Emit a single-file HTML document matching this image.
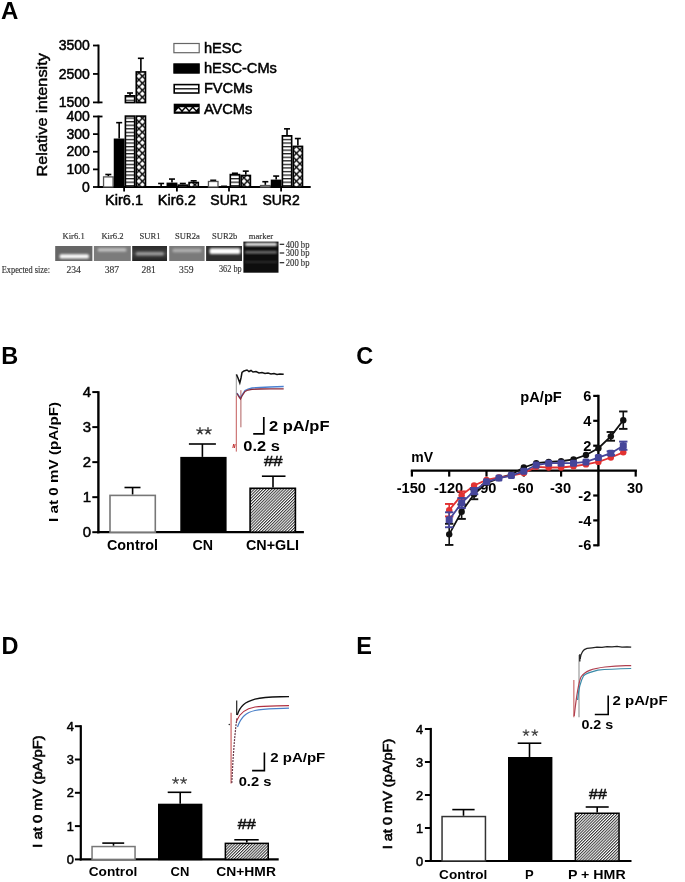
<!DOCTYPE html><html><head><meta charset="utf-8"><style>html,body{margin:0;padding:0;background:#fff;}svg{display:block;filter:blur(0.35px);}</style></head><body>
<svg width="685" height="882" viewBox="0 0 685 882">
<defs>
<pattern id="hstripe" patternUnits="userSpaceOnUse" x="0" y="0" width="20" height="3.56">
<rect x="0" y="0" width="20" height="3.56" fill="#fff"/><rect x="0" y="0" width="20" height="1.3" fill="#222"/></pattern>
<pattern id="xhatch" patternUnits="userSpaceOnUse" x="-1.1" y="2.7" width="7" height="7">
<rect width="7" height="7" fill="#fff"/>
<path d="M-1,-1 L8,8 M-1,8 L8,-1" stroke="#000" stroke-width="1.4"/></pattern>
<pattern id="diag" patternUnits="userSpaceOnUse" width="2.06" height="2.06" patternTransform="rotate(45)">
<rect width="2.06" height="2.06" fill="#fff"/><rect width="1.0" height="2.06" fill="#333"/></pattern>
<filter id="bl" x="-20%" y="-50%" width="140%" height="200%"><feGaussianBlur stdDeviation="0.9"/></filter>
<linearGradient id="darklane" x1="0" y1="0" x2="0" y2="1"><stop offset="0" stop-color="#2a2a2a"/><stop offset="0.5" stop-color="#444"/><stop offset="1" stop-color="#222"/></linearGradient>
</defs>
<rect width="685" height="882" fill="#fff"/>
<text x="0.9" y="19.4" font-size="24" font-weight="bold" text-anchor="start" fill="#000" font-family='"Liberation Sans", sans-serif'>A</text>
<line x1="98.5" y1="44.6" x2="98.5" y2="103.3" stroke="#000" stroke-width="2" stroke-linecap="butt"/>
<line x1="93" y1="45.5" x2="98.5" y2="45.5" stroke="#000" stroke-width="1.8" stroke-linecap="butt"/>
<line x1="93" y1="73.95" x2="98.5" y2="73.95" stroke="#000" stroke-width="1.8" stroke-linecap="butt"/>
<line x1="93" y1="102.4" x2="98.5" y2="102.4" stroke="#000" stroke-width="1.8" stroke-linecap="butt"/>
<line x1="98.5" y1="102.4" x2="102.5" y2="102.4" stroke="#000" stroke-width="1.8" stroke-linecap="butt"/>
<line x1="98.5" y1="115.6" x2="98.5" y2="187" stroke="#000" stroke-width="2" stroke-linecap="butt"/>
<line x1="93" y1="116.5" x2="98.5" y2="116.5" stroke="#000" stroke-width="1.8" stroke-linecap="butt"/>
<line x1="93" y1="134.125" x2="98.5" y2="134.125" stroke="#000" stroke-width="1.8" stroke-linecap="butt"/>
<line x1="93" y1="151.75" x2="98.5" y2="151.75" stroke="#000" stroke-width="1.8" stroke-linecap="butt"/>
<line x1="93" y1="169.375" x2="98.5" y2="169.375" stroke="#000" stroke-width="1.8" stroke-linecap="butt"/>
<line x1="93" y1="187.0" x2="98.5" y2="187.0" stroke="#000" stroke-width="1.8" stroke-linecap="butt"/>
<line x1="98.5" y1="116.5" x2="102.5" y2="116.5" stroke="#000" stroke-width="1.8" stroke-linecap="butt"/>
<text x="89.8" y="50.1" font-size="14" text-anchor="end" fill="#000" stroke="#000" stroke-width="0.5" font-family='"Liberation Sans", sans-serif'>3500</text>
<text x="89.8" y="78.55" font-size="14" text-anchor="end" fill="#000" stroke="#000" stroke-width="0.5" font-family='"Liberation Sans", sans-serif'>2500</text>
<text x="89.8" y="107.0" font-size="14" text-anchor="end" fill="#000" stroke="#000" stroke-width="0.5" font-family='"Liberation Sans", sans-serif'>1500</text>
<text x="89.8" y="121.1" font-size="14" text-anchor="end" fill="#000" stroke="#000" stroke-width="0.5" font-family='"Liberation Sans", sans-serif'>400</text>
<text x="89.8" y="138.725" font-size="14" text-anchor="end" fill="#000" stroke="#000" stroke-width="0.5" font-family='"Liberation Sans", sans-serif'>300</text>
<text x="89.8" y="156.35" font-size="14" text-anchor="end" fill="#000" stroke="#000" stroke-width="0.5" font-family='"Liberation Sans", sans-serif'>200</text>
<text x="89.8" y="173.975" font-size="14" text-anchor="end" fill="#000" stroke="#000" stroke-width="0.5" font-family='"Liberation Sans", sans-serif'>100</text>
<text x="89.8" y="191.6" font-size="14" text-anchor="end" fill="#000" stroke="#000" stroke-width="0.5" font-family='"Liberation Sans", sans-serif'>0</text>
<text transform="translate(46.9,114.8) rotate(-90)" x="0" y="0" font-size="14.5" text-anchor="middle" fill="#000" stroke="#000" stroke-width="0.45" font-family='"Liberation Sans", sans-serif' textLength="123.5" lengthAdjust="spacingAndGlyphs">Relative intensity</text>
<line x1="97.5" y1="187" x2="310.7" y2="187" stroke="#000" stroke-width="2" stroke-linecap="butt"/>
<line x1="124.1" y1="187" x2="124.1" y2="191.5" stroke="#000" stroke-width="1.8" stroke-linecap="butt"/>
<text x="124.1" y="205" font-size="14" text-anchor="middle" fill="#000" stroke="#000" stroke-width="0.5" font-family='"Liberation Sans", sans-serif' textLength="38.0" lengthAdjust="spacingAndGlyphs">Kir6.1</text>
<line x1="176.9" y1="187" x2="176.9" y2="191.5" stroke="#000" stroke-width="1.8" stroke-linecap="butt"/>
<text x="176.9" y="205" font-size="14" text-anchor="middle" fill="#000" stroke="#000" stroke-width="0.5" font-family='"Liberation Sans", sans-serif' textLength="38.2" lengthAdjust="spacingAndGlyphs">Kir6.2</text>
<line x1="229.0" y1="187" x2="229.0" y2="191.5" stroke="#000" stroke-width="1.8" stroke-linecap="butt"/>
<text x="229.0" y="205" font-size="14" text-anchor="middle" fill="#000" stroke="#000" stroke-width="0.5" font-family='"Liberation Sans", sans-serif'>SUR1</text>
<line x1="281.1" y1="187" x2="281.1" y2="191.5" stroke="#000" stroke-width="1.8" stroke-linecap="butt"/>
<text x="281.1" y="205" font-size="14" text-anchor="middle" fill="#000" stroke="#000" stroke-width="0.5" font-family='"Liberation Sans", sans-serif'>SUR2</text>
<line x1="108.32499999999999" y1="174.48625" x2="108.32499999999999" y2="176.24875" stroke="#000" stroke-width="1.6" stroke-linecap="butt"/>
<line x1="105.32499999999999" y1="174.48625" x2="111.32499999999999" y2="174.48625" stroke="#000" stroke-width="1.6" stroke-linecap="butt"/>
<rect x="103.55" y="176.89875" width="9.549999999999999" height="10.101249999999999" fill="#fff" stroke="#555" stroke-width="1.3"/>
<line x1="119.17499999999998" y1="122.66875" x2="119.17499999999998" y2="138.53125" stroke="#000" stroke-width="1.6" stroke-linecap="butt"/>
<line x1="116.17499999999998" y1="122.66875" x2="122.17499999999998" y2="122.66875" stroke="#000" stroke-width="1.6" stroke-linecap="butt"/>
<rect x="114.54999999999998" y="139.33125" width="9.25" height="47.66875" fill="#000" stroke="#000" stroke-width="1.6"/>
<line x1="161.12500000000003" y1="183.475" x2="161.12500000000003" y2="186.47125" stroke="#000" stroke-width="1.6" stroke-linecap="butt"/>
<line x1="158.12500000000003" y1="183.475" x2="164.12500000000003" y2="183.475" stroke="#000" stroke-width="1.6" stroke-linecap="butt"/>
<rect x="156.35000000000002" y="187.12125" width="9.549999999999999" height="-0.12124999999999775" fill="#fff" stroke="#555" stroke-width="1.3"/>
<line x1="171.97500000000002" y1="179.06875" x2="171.97500000000002" y2="182.59375" stroke="#000" stroke-width="1.6" stroke-linecap="butt"/>
<line x1="168.97500000000002" y1="179.06875" x2="174.97500000000002" y2="179.06875" stroke="#000" stroke-width="1.6" stroke-linecap="butt"/>
<rect x="167.35000000000002" y="183.39375" width="9.25" height="3.60625" fill="#000" stroke="#000" stroke-width="1.6"/>
<line x1="182.82500000000002" y1="183.475" x2="182.82500000000002" y2="184.35625" stroke="#000" stroke-width="1.6" stroke-linecap="butt"/>
<line x1="179.82500000000002" y1="183.475" x2="185.82500000000002" y2="183.475" stroke="#000" stroke-width="1.6" stroke-linecap="butt"/>
<rect x="178.20000000000002" y="185.15625" width="9.25" height="1.8437500000000113" fill="url(#hstripe)" stroke="#000" stroke-width="1.6"/>
<line x1="193.675" y1="180.83125" x2="193.675" y2="181.7125" stroke="#000" stroke-width="1.6" stroke-linecap="butt"/>
<line x1="190.675" y1="180.83125" x2="196.675" y2="180.83125" stroke="#000" stroke-width="1.6" stroke-linecap="butt"/>
<rect x="189.05" y="182.51250000000002" width="9.25" height="4.4874999999999945" fill="url(#xhatch)" stroke="#000" stroke-width="1.6"/>
<line x1="213.22500000000002" y1="180.3025" x2="213.22500000000002" y2="180.83125" stroke="#000" stroke-width="1.6" stroke-linecap="butt"/>
<line x1="210.22500000000002" y1="180.3025" x2="216.22500000000002" y2="180.3025" stroke="#000" stroke-width="1.6" stroke-linecap="butt"/>
<rect x="208.45000000000002" y="181.48125000000002" width="9.549999999999999" height="5.518749999999988" fill="#fff" stroke="#555" stroke-width="1.3"/>
<line x1="224.07500000000002" y1="186.295" x2="224.07500000000002" y2="186.6475" stroke="#000" stroke-width="1.6" stroke-linecap="butt"/>
<line x1="221.07500000000002" y1="186.295" x2="227.07500000000002" y2="186.295" stroke="#000" stroke-width="1.6" stroke-linecap="butt"/>
<rect x="219.45000000000002" y="187.44750000000002" width="9.25" height="-0.447500000000008" fill="#000" stroke="#000" stroke-width="1.6"/>
<line x1="234.925" y1="173.2525" x2="234.925" y2="173.78125" stroke="#000" stroke-width="1.6" stroke-linecap="butt"/>
<line x1="231.925" y1="173.2525" x2="237.925" y2="173.2525" stroke="#000" stroke-width="1.6" stroke-linecap="butt"/>
<rect x="230.3" y="174.58125" width="9.25" height="12.41875" fill="url(#hstripe)" stroke="#000" stroke-width="1.6"/>
<line x1="245.77500000000003" y1="171.1375" x2="245.77500000000003" y2="174.6625" stroke="#000" stroke-width="1.6" stroke-linecap="butt"/>
<line x1="242.77500000000003" y1="171.1375" x2="248.77500000000003" y2="171.1375" stroke="#000" stroke-width="1.6" stroke-linecap="butt"/>
<rect x="241.15000000000003" y="175.4625" width="9.25" height="11.537500000000005" fill="url(#xhatch)" stroke="#000" stroke-width="1.6"/>
<line x1="265.32500000000005" y1="181.7125" x2="265.32500000000005" y2="184.885" stroke="#000" stroke-width="1.6" stroke-linecap="butt"/>
<line x1="262.32500000000005" y1="181.7125" x2="268.32500000000005" y2="181.7125" stroke="#000" stroke-width="1.6" stroke-linecap="butt"/>
<rect x="260.55" y="185.535" width="9.549999999999999" height="1.4650000000000092" fill="#fff" stroke="#555" stroke-width="1.3"/>
<line x1="276.17500000000007" y1="176.0725" x2="276.17500000000007" y2="179.5975" stroke="#000" stroke-width="1.6" stroke-linecap="butt"/>
<line x1="273.17500000000007" y1="176.0725" x2="279.17500000000007" y2="176.0725" stroke="#000" stroke-width="1.6" stroke-linecap="butt"/>
<rect x="271.55000000000007" y="180.3975" width="9.25" height="6.602500000000004" fill="#000" stroke="#000" stroke-width="1.6"/>
<line x1="287.02500000000003" y1="128.8375" x2="287.02500000000003" y2="135.00625" stroke="#000" stroke-width="1.6" stroke-linecap="butt"/>
<line x1="284.02500000000003" y1="128.8375" x2="290.02500000000003" y2="128.8375" stroke="#000" stroke-width="1.6" stroke-linecap="butt"/>
<rect x="282.40000000000003" y="135.80625" width="9.25" height="51.19375000000001" fill="url(#hstripe)" stroke="#000" stroke-width="1.6"/>
<line x1="297.87500000000006" y1="138.53125" x2="297.87500000000006" y2="145.58125" stroke="#000" stroke-width="1.6" stroke-linecap="butt"/>
<line x1="294.87500000000006" y1="138.53125" x2="300.87500000000006" y2="138.53125" stroke="#000" stroke-width="1.6" stroke-linecap="butt"/>
<rect x="293.25000000000006" y="146.38125000000002" width="9.25" height="40.61874999999999" fill="url(#xhatch)" stroke="#000" stroke-width="1.6"/>
<rect x="125.39999999999999" y="116.1" width="9.25" height="70.9" fill="url(#hstripe)" stroke="#000" stroke-width="1.6"/>
<line x1="130.025" y1="93.0115" x2="130.025" y2="95.003" stroke="#000" stroke-width="1.6" stroke-linecap="butt"/>
<line x1="127.025" y1="93.0115" x2="133.025" y2="93.0115" stroke="#000" stroke-width="1.6" stroke-linecap="butt"/>
<rect x="125.39999999999999" y="95.803" width="9.25" height="6.796999999999994" fill="url(#hstripe)" stroke="#000" stroke-width="1.6"/>
<rect x="136.25" y="116.1" width="9.25" height="70.9" fill="url(#xhatch)" stroke="#000" stroke-width="1.6"/>
<line x1="140.875" y1="58.302499999999995" x2="140.875" y2="71.105" stroke="#000" stroke-width="1.6" stroke-linecap="butt"/>
<line x1="137.875" y1="58.302499999999995" x2="143.875" y2="58.302499999999995" stroke="#000" stroke-width="1.6" stroke-linecap="butt"/>
<rect x="136.25" y="71.905" width="9.25" height="30.69499999999999" fill="url(#xhatch)" stroke="#000" stroke-width="1.6"/>
<rect x="173.9" y="43.5" width="25.3" height="9.2" fill="#fff" stroke="#666" stroke-width="1.2"/>
<text x="203.9" y="52.5" font-size="14.6" text-anchor="start" fill="#000" stroke="#000" stroke-width="0.5" font-family='"Liberation Sans", sans-serif'>hESC</text>
<rect x="173.9" y="63.900000000000006" width="25.3" height="9.2" fill="#000" stroke="#000" stroke-width="1.2"/>
<text x="203.9" y="72.9" font-size="14.6" text-anchor="start" fill="#000" stroke="#000" stroke-width="0.5" font-family='"Liberation Sans", sans-serif'>hESC-CMs</text>
<rect x="174.2" y="84.6" width="24.6" height="8.4" fill="#fff" stroke="#000" stroke-width="1.6"/>
<line x1="174.2" y1="88.8" x2="198.8" y2="88.8" stroke="#000" stroke-width="1.3" stroke-linecap="butt"/>
<text x="203.9" y="93.3" font-size="14.6" text-anchor="start" fill="#000" stroke="#000" stroke-width="0.5" font-family='"Liberation Sans", sans-serif'>FVCMs</text>
<rect x="173.7" y="103.7" width="26.0" height="10.1" fill="#000"/>
<polygon points="175.4,111.6 181.4,111.6 178.4,108.2" fill="#fff"/>
<polygon points="182.6,111.6 188.6,111.6 185.6,108.2" fill="#fff"/>
<polygon points="189.8,111.6 195.8,111.6 192.8,108.2" fill="#fff"/>
<polygon points="179.4,107.2 184.6,107.2 182.0,110.0" fill="#fff"/>
<polygon points="186.6,107.2 191.79999999999998,107.2 189.2,110.0" fill="#fff"/>
<polygon points="193.70000000000002,107.2 198.9,107.2 196.3,110.0" fill="#fff"/>
<text x="203.9" y="113.69999999999999" font-size="14.6" text-anchor="start" fill="#000" stroke="#000" stroke-width="0.5" font-family='"Liberation Sans", sans-serif'>AVCMs</text>
<rect x="55.2" y="246" width="37.2" height="15" fill="#666"/>
<rect x="59.6" y="254.3" width="29.300000000000004" height="4.199999999999989" rx="1.5" fill="#fafafa" filter="url(#bl)"/>
<rect x="93.9" y="246" width="36.900000000000006" height="15" fill="#7b7b7b"/>
<rect x="97.7" y="248.2" width="28.799999999999997" height="3.4000000000000057" rx="1.5" fill="#c4c4c4" filter="url(#bl)"/>
<rect x="132.2" y="246" width="34.80000000000001" height="15" fill="url(#darklane)"/>
<rect x="135.8" y="252.0" width="28.099999999999994" height="3.5999999999999943" rx="1.5" fill="#9a9a9a" filter="url(#bl)"/>
<rect x="169.2" y="246" width="35.400000000000006" height="15" fill="#7a7a7a"/>
<rect x="172.5" y="248.8" width="29.0" height="3.5" rx="1.5" fill="#b0b0b0" filter="url(#bl)"/>
<rect x="206.1" y="246" width="35.900000000000006" height="15" fill="#2e2e2e"/>
<rect x="209.6" y="248.3" width="30.700000000000017" height="5.699999999999989" rx="1.5" fill="#fdfdfd" filter="url(#bl)"/>
<rect x="243.4" y="241.6" width="35.1" height="31.1" fill="#0e0e0e"/>
<rect x="245" y="242.8" width="32" height="3.2" rx="1.5" fill="#e8e8e8" filter="url(#bl)"/>
<rect x="245" y="251" width="32" height="2.4" rx="1" fill="#777" filter="url(#bl)"/>
<rect x="245" y="261" width="32" height="1.8" rx="1" fill="#333" filter="url(#bl)"/>
<line x1="279.7" y1="244.3" x2="284.2" y2="244.3" stroke="#222" stroke-width="1.2" stroke-linecap="butt"/>
<text x="285.8" y="247.60000000000002" font-size="9.6" text-anchor="start" fill="#333" stroke="#333" stroke-width="0.15" font-family='"Liberation Serif", serif' textLength="23.7" lengthAdjust="spacingAndGlyphs">400 bp</text>
<line x1="279.7" y1="253.0" x2="284.2" y2="253.0" stroke="#222" stroke-width="1.2" stroke-linecap="butt"/>
<text x="285.8" y="256.3" font-size="9.6" text-anchor="start" fill="#333" stroke="#333" stroke-width="0.15" font-family='"Liberation Serif", serif' textLength="23.7" lengthAdjust="spacingAndGlyphs">300 bp</text>
<line x1="279.7" y1="262.7" x2="284.2" y2="262.7" stroke="#222" stroke-width="1.2" stroke-linecap="butt"/>
<text x="285.8" y="266.0" font-size="9.6" text-anchor="start" fill="#333" stroke="#333" stroke-width="0.15" font-family='"Liberation Serif", serif' textLength="23.7" lengthAdjust="spacingAndGlyphs">200 bp</text>
<text x="73.6" y="238.8" font-size="8.6" text-anchor="middle" fill="#333" stroke="#333" stroke-width="0.15" font-family='"Liberation Serif", serif'>Kir6.1</text>
<text x="112.5" y="238.8" font-size="8.6" text-anchor="middle" fill="#333" stroke="#333" stroke-width="0.15" font-family='"Liberation Serif", serif'>Kir6.2</text>
<text x="150.0" y="238.8" font-size="8.6" text-anchor="middle" fill="#333" stroke="#333" stroke-width="0.15" font-family='"Liberation Serif", serif'>SUR1</text>
<text x="187.5" y="238.8" font-size="8.6" text-anchor="middle" fill="#333" stroke="#333" stroke-width="0.15" font-family='"Liberation Serif", serif'>SUR2a</text>
<text x="224.7" y="238.8" font-size="8.6" text-anchor="middle" fill="#333" stroke="#333" stroke-width="0.15" font-family='"Liberation Serif", serif'>SUR2b</text>
<text x="261.0" y="238.8" font-size="8.6" text-anchor="middle" fill="#333" stroke="#333" stroke-width="0.15" font-family='"Liberation Serif", serif'>marker</text>
<text x="1.8" y="272.6" font-size="9.6" text-anchor="start" fill="#333" stroke="#333" stroke-width="0.15" font-family='"Liberation Serif", serif' textLength="48.2" lengthAdjust="spacingAndGlyphs">Expected size:</text>
<text x="73.6" y="272.6" font-size="9.6" text-anchor="middle" fill="#333" stroke="#333" stroke-width="0.15" font-family='"Liberation Serif", serif'>234</text>
<text x="111.9" y="272.6" font-size="9.6" text-anchor="middle" fill="#333" stroke="#333" stroke-width="0.15" font-family='"Liberation Serif", serif'>387</text>
<text x="148.7" y="272.6" font-size="9.6" text-anchor="middle" fill="#333" stroke="#333" stroke-width="0.15" font-family='"Liberation Serif", serif'>281</text>
<text x="186.3" y="272.6" font-size="9.6" text-anchor="middle" fill="#333" stroke="#333" stroke-width="0.15" font-family='"Liberation Serif", serif'>359</text>
<text x="241.6" y="272.4" font-size="9.6" text-anchor="end" fill="#333" stroke="#333" stroke-width="0.15" font-family='"Liberation Serif", serif' textLength="22.6" lengthAdjust="spacingAndGlyphs">362 bp</text>
<text x="1.3" y="363.6" font-size="23.5" font-weight="bold" text-anchor="start" fill="#000" font-family='"Liberation Sans", sans-serif'>B</text>
<line x1="98.4" y1="391.2" x2="98.4" y2="533.3" stroke="#000" stroke-width="2.4" stroke-linecap="butt"/>
<line x1="92.3" y1="532.2" x2="98.4" y2="532.2" stroke="#000" stroke-width="2" stroke-linecap="butt"/>
<text x="91.0" y="537.4000000000001" font-size="15" text-anchor="end" fill="#000" stroke="#000" stroke-width="0.5" font-family='"Liberation Sans", sans-serif'>0</text>
<line x1="92.3" y1="497.1700000000001" x2="98.4" y2="497.1700000000001" stroke="#000" stroke-width="2" stroke-linecap="butt"/>
<text x="91.0" y="502.37000000000006" font-size="15" text-anchor="end" fill="#000" stroke="#000" stroke-width="0.5" font-family='"Liberation Sans", sans-serif'>1</text>
<line x1="92.3" y1="462.14000000000004" x2="98.4" y2="462.14000000000004" stroke="#000" stroke-width="2" stroke-linecap="butt"/>
<text x="91.0" y="467.34000000000003" font-size="15" text-anchor="end" fill="#000" stroke="#000" stroke-width="0.5" font-family='"Liberation Sans", sans-serif'>2</text>
<line x1="92.3" y1="427.11" x2="98.4" y2="427.11" stroke="#000" stroke-width="2" stroke-linecap="butt"/>
<text x="91.0" y="432.31" font-size="15" text-anchor="end" fill="#000" stroke="#000" stroke-width="0.5" font-family='"Liberation Sans", sans-serif'>3</text>
<line x1="92.3" y1="392.08000000000004" x2="98.4" y2="392.08000000000004" stroke="#000" stroke-width="2" stroke-linecap="butt"/>
<text x="91.0" y="397.28000000000003" font-size="15" text-anchor="end" fill="#000" stroke="#000" stroke-width="0.5" font-family='"Liberation Sans", sans-serif'>4</text>
<line x1="97.2" y1="532.2" x2="303.9" y2="532.2" stroke="#000" stroke-width="2.2" stroke-linecap="butt"/>
<text transform="translate(57.8,461.9) rotate(-90)" x="0" y="0" font-size="13" font-weight="bold" text-anchor="middle" fill="#000" font-family='"Liberation Sans", sans-serif' textLength="120" lengthAdjust="spacingAndGlyphs">I at 0 mV (pA/pF)</text>
<line x1="132.6" y1="487.5" x2="132.6" y2="494.6" stroke="#000" stroke-width="1.6" stroke-linecap="butt"/>
<line x1="124.5" y1="487.5" x2="140.5" y2="487.5" stroke="#000" stroke-width="1.6" stroke-linecap="butt"/>
<rect x="110.0" y="495.40000000000003" width="45.29999999999999" height="36.800000000000026" fill="#fff" stroke="#777" stroke-width="1.6"/>
<line x1="202.4" y1="444.0" x2="202.4" y2="456.9" stroke="#000" stroke-width="1.6" stroke-linecap="butt"/>
<line x1="188.9" y1="444.0" x2="215.9" y2="444.0" stroke="#000" stroke-width="1.6" stroke-linecap="butt"/>
<rect x="181.10000000000002" y="457.7" width="44.69999999999998" height="74.50000000000007" fill="#000" stroke="#000" stroke-width="1.6"/>
<line x1="273.0" y1="476.2" x2="273.0" y2="487.5" stroke="#000" stroke-width="1.6" stroke-linecap="butt"/>
<line x1="261.9" y1="476.2" x2="285.5" y2="476.2" stroke="#000" stroke-width="1.6" stroke-linecap="butt"/>
<rect x="250.10000000000002" y="488.3" width="45.299999999999976" height="43.90000000000005" fill="url(#diag)" stroke="#000" stroke-width="1.6"/>
<text x="132.5" y="550.2" font-size="14.2" font-weight="bold" text-anchor="middle" fill="#000" font-family='"Liberation Sans", sans-serif' textLength="51" lengthAdjust="spacingAndGlyphs">Control</text>
<text x="202.7" y="550.2" font-size="14.2" font-weight="bold" text-anchor="middle" fill="#000" font-family='"Liberation Sans", sans-serif'>CN</text>
<text x="272.5" y="550.2" font-size="14.2" font-weight="bold" text-anchor="middle" fill="#000" font-family='"Liberation Sans", sans-serif' textLength="53" lengthAdjust="spacingAndGlyphs">CN+GLI</text>
<path d="M200.00,431.00 L200.00,427.60 M200.00,431.00 L203.23,429.95 M200.00,431.00 L202.00,433.75 M200.00,431.00 L198.00,433.75 M200.00,431.00 L196.77,429.95 " stroke="#3a3a3a" stroke-width="1.4" stroke-linecap="round" fill="none"/>
<path d="M208.00,431.00 L208.00,427.60 M208.00,431.00 L211.23,429.95 M208.00,431.00 L210.00,433.75 M208.00,431.00 L206.00,433.75 M208.00,431.00 L204.77,429.95 " stroke="#3a3a3a" stroke-width="1.4" stroke-linecap="round" fill="none"/>
<text x="273.2" y="466.2" font-size="15.5" text-anchor="middle" fill="#111" stroke="#111" stroke-width="0.5" font-family='"Liberation Sans", sans-serif' textLength="18.6" lengthAdjust="spacingAndGlyphs">##</text>
<path d="M236.3,374 L236.3,396" stroke="#999" stroke-width="1" fill="none"/>
<path d="M236.3,396 L236.3,451.6" stroke="#c45a5a" stroke-width="1" fill="none"/>
<path d="M240.9,390.2 L240.9,427.3" stroke="#b06060" stroke-width="1" fill="none"/>
<path d="M236.5,374.5 L238,378 L239.8,383 L241,378 L242,372.5 L244,371 L247,370 L249,371.5 L251,370.5 L253,372 L256,371.5 L259,373 L262,372.5 L265,373.5 L268,373 L271,374 L274,373.5 L277,374.5 L280,374 L283.7,374.3" stroke="#111" stroke-width="1.5" fill="none"/>
<path d="M237,393 L239,396 L240.5,398 L242,395 L245,390.5 L248,389 L252,388 L260,387.5 L270,387 L283.7,386.5" stroke="#4a80d0" stroke-width="1.3" fill="none"/>
<path d="M237,393.5 L239,397 L240.5,399 L242,396 L245,391.5 L248,390 L252,389.3 L260,389 L270,388.8 L283.7,388.8" stroke="#8a2a3a" stroke-width="1.3" fill="none"/>
<path d="M232.8,448 L233.6,444 L234.4,448 L235.2,444" stroke="#c03030" stroke-width="0.9" fill="none"/>
<path d="M253.2,433.8 L263.8,433.8 L263.8,417" stroke="#000" stroke-width="1.7" fill="none"/>
<text x="269.0" y="431.0" font-size="14" font-weight="bold" text-anchor="start" fill="#000" font-family='"Liberation Sans", sans-serif' textLength="60.5" lengthAdjust="spacingAndGlyphs">2 pA/pF</text>
<text x="243.3" y="451.0" font-size="14" font-weight="bold" text-anchor="start" fill="#000" font-family='"Liberation Sans", sans-serif' textLength="36.5" lengthAdjust="spacingAndGlyphs">0.2 s</text>
<text x="356.3" y="363.6" font-size="23.5" font-weight="bold" text-anchor="start" fill="#000" font-family='"Liberation Sans", sans-serif'>C</text>
<line x1="410.8" y1="470.6" x2="636.9" y2="470.6" stroke="#000" stroke-width="2.4" stroke-linecap="butt"/>
<line x1="411.9" y1="470.6" x2="411.9" y2="476.6" stroke="#000" stroke-width="2.2" stroke-linecap="butt"/>
<text x="411.29999999999995" y="492.6" font-size="14.6" font-weight="bold" text-anchor="middle" fill="#000" font-family='"Liberation Sans", sans-serif'>-150</text>
<line x1="449.2" y1="470.6" x2="449.2" y2="476.6" stroke="#000" stroke-width="2.2" stroke-linecap="butt"/>
<text x="448.59999999999997" y="492.6" font-size="14.6" font-weight="bold" text-anchor="middle" fill="#000" font-family='"Liberation Sans", sans-serif'>-120</text>
<line x1="486.5" y1="470.6" x2="486.5" y2="476.6" stroke="#000" stroke-width="2.2" stroke-linecap="butt"/>
<text x="485.9" y="492.6" font-size="14.6" font-weight="bold" text-anchor="middle" fill="#000" font-family='"Liberation Sans", sans-serif'>-90</text>
<line x1="523.8" y1="470.6" x2="523.8" y2="476.6" stroke="#000" stroke-width="2.2" stroke-linecap="butt"/>
<text x="523.1999999999999" y="492.6" font-size="14.6" font-weight="bold" text-anchor="middle" fill="#000" font-family='"Liberation Sans", sans-serif'>-60</text>
<line x1="561.1" y1="470.6" x2="561.1" y2="476.6" stroke="#000" stroke-width="2.2" stroke-linecap="butt"/>
<text x="560.5" y="492.6" font-size="14.6" font-weight="bold" text-anchor="middle" fill="#000" font-family='"Liberation Sans", sans-serif'>-30</text>
<line x1="635.6999999999999" y1="470.6" x2="635.6999999999999" y2="476.6" stroke="#000" stroke-width="2.2" stroke-linecap="butt"/>
<text x="635.0999999999999" y="492.6" font-size="14.6" font-weight="bold" text-anchor="middle" fill="#000" font-family='"Liberation Sans", sans-serif'>30</text>
<line x1="598.4" y1="394.8" x2="598.4" y2="546.3" stroke="#000" stroke-width="2.4" stroke-linecap="butt"/>
<line x1="593.2" y1="395.90000000000003" x2="598.4" y2="395.90000000000003" stroke="#000" stroke-width="2.2" stroke-linecap="butt"/>
<text x="591.3" y="401.00000000000006" font-size="14.6" font-weight="bold" text-anchor="end" fill="#000" font-family='"Liberation Sans", sans-serif'>6</text>
<line x1="593.2" y1="420.8" x2="598.4" y2="420.8" stroke="#000" stroke-width="2.2" stroke-linecap="butt"/>
<text x="591.3" y="425.90000000000003" font-size="14.6" font-weight="bold" text-anchor="end" fill="#000" font-family='"Liberation Sans", sans-serif'>4</text>
<line x1="593.2" y1="445.70000000000005" x2="598.4" y2="445.70000000000005" stroke="#000" stroke-width="2.2" stroke-linecap="butt"/>
<text x="591.3" y="450.80000000000007" font-size="14.6" font-weight="bold" text-anchor="end" fill="#000" font-family='"Liberation Sans", sans-serif'>2</text>
<line x1="593.2" y1="495.5" x2="598.4" y2="495.5" stroke="#000" stroke-width="2.2" stroke-linecap="butt"/>
<text x="591.3" y="500.6" font-size="14.6" font-weight="bold" text-anchor="end" fill="#000" font-family='"Liberation Sans", sans-serif'>-2</text>
<line x1="593.2" y1="520.4" x2="598.4" y2="520.4" stroke="#000" stroke-width="2.2" stroke-linecap="butt"/>
<text x="591.3" y="525.5" font-size="14.6" font-weight="bold" text-anchor="end" fill="#000" font-family='"Liberation Sans", sans-serif'>-4</text>
<line x1="593.2" y1="545.3" x2="598.4" y2="545.3" stroke="#000" stroke-width="2.2" stroke-linecap="butt"/>
<text x="591.3" y="550.4" font-size="14.6" font-weight="bold" text-anchor="end" fill="#000" font-family='"Liberation Sans", sans-serif'>-6</text>
<text x="411.2" y="462.0" font-size="14" font-weight="bold" text-anchor="start" fill="#000" font-family='"Liberation Sans", sans-serif'>mV</text>
<text x="520.3" y="402.2" font-size="14" font-weight="bold" text-anchor="start" fill="#000" font-family='"Liberation Sans", sans-serif' textLength="41.5" lengthAdjust="spacingAndGlyphs">pA/pF</text>
<polyline points="449.20,534.34 461.63,511.69 474.07,494.25 486.50,483.05 498.93,478.07 511.37,474.34 523.80,467.49 536.23,463.13 548.67,461.89 561.10,461.26 573.53,459.40 585.97,455.04 598.40,448.19 610.83,436.36 623.27,420.18" fill="none" stroke="#111" stroke-width="1.8"/>
<line x1="449.2" y1="544.9265" x2="449.2" y2="523.7615000000001" stroke="#111" stroke-width="1.6" stroke-linecap="butt"/>
<line x1="445.0" y1="544.9265" x2="453.4" y2="544.9265" stroke="#111" stroke-width="1.9" stroke-linecap="butt"/>
<line x1="445.0" y1="523.7615000000001" x2="453.4" y2="523.7615000000001" stroke="#111" stroke-width="1.9" stroke-linecap="butt"/>
<line x1="461.6333333333333" y1="518.9060000000001" x2="461.6333333333333" y2="504.464" stroke="#111" stroke-width="1.6" stroke-linecap="butt"/>
<line x1="457.43333333333334" y1="518.9060000000001" x2="465.8333333333333" y2="518.9060000000001" stroke="#111" stroke-width="1.9" stroke-linecap="butt"/>
<line x1="457.43333333333334" y1="504.464" x2="465.8333333333333" y2="504.464" stroke="#111" stroke-width="1.9" stroke-linecap="butt"/>
<line x1="474.06666666666666" y1="499.235" x2="474.06666666666666" y2="489.27500000000003" stroke="#111" stroke-width="1.6" stroke-linecap="butt"/>
<line x1="469.8666666666667" y1="499.235" x2="478.26666666666665" y2="499.235" stroke="#111" stroke-width="1.9" stroke-linecap="butt"/>
<line x1="469.8666666666667" y1="489.27500000000003" x2="478.26666666666665" y2="489.27500000000003" stroke="#111" stroke-width="1.9" stroke-linecap="butt"/>
<line x1="610.8333333333333" y1="440.72" x2="610.8333333333333" y2="432.005" stroke="#111" stroke-width="1.6" stroke-linecap="butt"/>
<line x1="606.6333333333332" y1="440.72" x2="615.0333333333333" y2="440.72" stroke="#111" stroke-width="1.9" stroke-linecap="butt"/>
<line x1="606.6333333333332" y1="432.005" x2="615.0333333333333" y2="432.005" stroke="#111" stroke-width="1.9" stroke-linecap="butt"/>
<line x1="623.2666666666667" y1="428.89250000000004" x2="623.2666666666667" y2="411.46250000000003" stroke="#111" stroke-width="1.6" stroke-linecap="butt"/>
<line x1="619.0666666666666" y1="428.89250000000004" x2="627.4666666666667" y2="428.89250000000004" stroke="#111" stroke-width="1.9" stroke-linecap="butt"/>
<line x1="619.0666666666666" y1="411.46250000000003" x2="627.4666666666667" y2="411.46250000000003" stroke="#111" stroke-width="1.9" stroke-linecap="butt"/>
<circle cx="449.20" cy="534.34" r="3.2" fill="#111"/>
<circle cx="461.63" cy="511.69" r="3.2" fill="#111"/>
<circle cx="474.07" cy="494.25" r="3.2" fill="#111"/>
<circle cx="486.50" cy="483.05" r="3.2" fill="#111"/>
<circle cx="498.93" cy="478.07" r="3.2" fill="#111"/>
<circle cx="511.37" cy="474.34" r="3.2" fill="#111"/>
<circle cx="523.80" cy="467.49" r="3.2" fill="#111"/>
<circle cx="536.23" cy="463.13" r="3.2" fill="#111"/>
<circle cx="548.67" cy="461.89" r="3.2" fill="#111"/>
<circle cx="561.10" cy="461.26" r="3.2" fill="#111"/>
<circle cx="573.53" cy="459.40" r="3.2" fill="#111"/>
<circle cx="585.97" cy="455.04" r="3.2" fill="#111"/>
<circle cx="598.40" cy="448.19" r="3.2" fill="#111"/>
<circle cx="610.83" cy="436.36" r="3.2" fill="#111"/>
<circle cx="623.27" cy="420.18" r="3.2" fill="#111"/>
<polyline points="449.20,510.19 461.63,495.13 474.07,485.54 486.50,479.94 498.93,477.45 511.37,475.58 523.80,473.09 536.23,466.87 548.67,467.49 561.10,467.49 573.53,466.24 585.97,464.38 598.40,461.89 610.83,457.53 623.27,452.30" fill="none" stroke="#e23232" stroke-width="1.8"/>
<line x1="449.2" y1="516.416" x2="449.2" y2="503.966" stroke="#e23232" stroke-width="1.6" stroke-linecap="butt"/>
<line x1="445.0" y1="516.416" x2="453.4" y2="516.416" stroke="#e23232" stroke-width="1.9" stroke-linecap="butt"/>
<line x1="445.0" y1="503.966" x2="453.4" y2="503.966" stroke="#e23232" stroke-width="1.9" stroke-linecap="butt"/>
<line x1="461.6333333333333" y1="498.86150000000004" x2="461.6333333333333" y2="491.3915" stroke="#e23232" stroke-width="1.6" stroke-linecap="butt"/>
<line x1="457.43333333333334" y1="498.86150000000004" x2="465.8333333333333" y2="498.86150000000004" stroke="#e23232" stroke-width="1.9" stroke-linecap="butt"/>
<line x1="457.43333333333334" y1="491.3915" x2="465.8333333333333" y2="491.3915" stroke="#e23232" stroke-width="1.9" stroke-linecap="butt"/>
<circle cx="449.20" cy="510.19" r="3.2" fill="#e23232"/>
<circle cx="461.63" cy="495.13" r="3.2" fill="#e23232"/>
<circle cx="474.07" cy="485.54" r="3.2" fill="#e23232"/>
<circle cx="486.50" cy="479.94" r="3.2" fill="#e23232"/>
<circle cx="498.93" cy="477.45" r="3.2" fill="#e23232"/>
<circle cx="511.37" cy="475.58" r="3.2" fill="#e23232"/>
<circle cx="523.80" cy="473.09" r="3.2" fill="#e23232"/>
<circle cx="536.23" cy="466.87" r="3.2" fill="#e23232"/>
<circle cx="548.67" cy="467.49" r="3.2" fill="#e23232"/>
<circle cx="561.10" cy="467.49" r="3.2" fill="#e23232"/>
<circle cx="573.53" cy="466.24" r="3.2" fill="#e23232"/>
<circle cx="585.97" cy="464.38" r="3.2" fill="#e23232"/>
<circle cx="598.40" cy="461.89" r="3.2" fill="#e23232"/>
<circle cx="610.83" cy="457.53" r="3.2" fill="#e23232"/>
<circle cx="623.27" cy="452.30" r="3.2" fill="#e23232"/>
<polyline points="449.20,519.78 461.63,502.97 474.07,491.14 486.50,481.81 498.93,478.07 511.37,475.58 523.80,471.22 536.23,465.00 548.67,463.13 561.10,463.13 573.53,463.13 585.97,461.89 598.40,457.53 610.83,453.17 623.27,445.70" fill="none" stroke="#45459a" stroke-width="1.8"/>
<line x1="449.2" y1="527.2475000000001" x2="449.2" y2="512.3075" stroke="#45459a" stroke-width="1.6" stroke-linecap="butt"/>
<line x1="445.0" y1="527.2475000000001" x2="453.4" y2="527.2475000000001" stroke="#45459a" stroke-width="1.9" stroke-linecap="butt"/>
<line x1="445.0" y1="512.3075" x2="453.4" y2="512.3075" stroke="#45459a" stroke-width="1.9" stroke-linecap="butt"/>
<line x1="461.6333333333333" y1="507.95000000000005" x2="461.6333333333333" y2="497.99" stroke="#45459a" stroke-width="1.6" stroke-linecap="butt"/>
<line x1="457.43333333333334" y1="507.95000000000005" x2="465.8333333333333" y2="507.95000000000005" stroke="#45459a" stroke-width="1.9" stroke-linecap="butt"/>
<line x1="457.43333333333334" y1="497.99" x2="465.8333333333333" y2="497.99" stroke="#45459a" stroke-width="1.9" stroke-linecap="butt"/>
<line x1="474.06666666666666" y1="494.255" x2="474.06666666666666" y2="488.03000000000003" stroke="#45459a" stroke-width="1.6" stroke-linecap="butt"/>
<line x1="469.8666666666667" y1="494.255" x2="478.26666666666665" y2="494.255" stroke="#45459a" stroke-width="1.9" stroke-linecap="butt"/>
<line x1="469.8666666666667" y1="488.03000000000003" x2="478.26666666666665" y2="488.03000000000003" stroke="#45459a" stroke-width="1.9" stroke-linecap="butt"/>
<line x1="610.8333333333333" y1="455.0375" x2="610.8333333333333" y2="451.3025" stroke="#45459a" stroke-width="1.6" stroke-linecap="butt"/>
<line x1="606.6333333333332" y1="455.0375" x2="615.0333333333333" y2="455.0375" stroke="#45459a" stroke-width="1.9" stroke-linecap="butt"/>
<line x1="606.6333333333332" y1="451.3025" x2="615.0333333333333" y2="451.3025" stroke="#45459a" stroke-width="1.9" stroke-linecap="butt"/>
<line x1="623.2666666666667" y1="449.80850000000004" x2="623.2666666666667" y2="441.5915" stroke="#45459a" stroke-width="1.6" stroke-linecap="butt"/>
<line x1="619.0666666666666" y1="449.80850000000004" x2="627.4666666666667" y2="449.80850000000004" stroke="#45459a" stroke-width="1.9" stroke-linecap="butt"/>
<line x1="619.0666666666666" y1="441.5915" x2="627.4666666666667" y2="441.5915" stroke="#45459a" stroke-width="1.9" stroke-linecap="butt"/>
<rect x="445.70" y="516.28" width="7" height="7" rx="1.5" fill="#45459a"/>
<rect x="458.13" y="499.47" width="7" height="7" rx="1.5" fill="#45459a"/>
<rect x="470.57" y="487.64" width="7" height="7" rx="1.5" fill="#45459a"/>
<rect x="483.00" y="478.31" width="7" height="7" rx="1.5" fill="#45459a"/>
<rect x="495.43" y="474.57" width="7" height="7" rx="1.5" fill="#45459a"/>
<rect x="507.87" y="472.08" width="7" height="7" rx="1.5" fill="#45459a"/>
<rect x="520.30" y="467.72" width="7" height="7" rx="1.5" fill="#45459a"/>
<rect x="532.73" y="461.50" width="7" height="7" rx="1.5" fill="#45459a"/>
<rect x="545.17" y="459.63" width="7" height="7" rx="1.5" fill="#45459a"/>
<rect x="557.60" y="459.63" width="7" height="7" rx="1.5" fill="#45459a"/>
<rect x="570.03" y="459.63" width="7" height="7" rx="1.5" fill="#45459a"/>
<rect x="582.47" y="458.39" width="7" height="7" rx="1.5" fill="#45459a"/>
<rect x="594.90" y="454.03" width="7" height="7" rx="1.5" fill="#45459a"/>
<rect x="607.33" y="449.67" width="7" height="7" rx="1.5" fill="#45459a"/>
<rect x="619.77" y="442.20" width="7" height="7" rx="1.5" fill="#45459a"/>
<text x="1.6" y="654.4" font-size="23.5" font-weight="bold" text-anchor="start" fill="#000" font-family='"Liberation Sans", sans-serif'>D</text>
<line x1="80.8" y1="725.2" x2="80.8" y2="860.4" stroke="#000" stroke-width="2.2" stroke-linecap="butt"/>
<line x1="74.9" y1="859.4" x2="80.8" y2="859.4" stroke="#000" stroke-width="2" stroke-linecap="butt"/>
<text x="73.9" y="864.0" font-size="12.8" text-anchor="end" fill="#000" stroke="#000" stroke-width="0.5" font-family='"Liberation Sans", sans-serif'>0</text>
<line x1="74.9" y1="826.1" x2="80.8" y2="826.1" stroke="#000" stroke-width="2" stroke-linecap="butt"/>
<text x="73.9" y="830.7" font-size="12.8" text-anchor="end" fill="#000" stroke="#000" stroke-width="0.5" font-family='"Liberation Sans", sans-serif'>1</text>
<line x1="74.9" y1="792.8" x2="80.8" y2="792.8" stroke="#000" stroke-width="2" stroke-linecap="butt"/>
<text x="73.9" y="797.4" font-size="12.8" text-anchor="end" fill="#000" stroke="#000" stroke-width="0.5" font-family='"Liberation Sans", sans-serif'>2</text>
<line x1="74.9" y1="759.5" x2="80.8" y2="759.5" stroke="#000" stroke-width="2" stroke-linecap="butt"/>
<text x="73.9" y="764.1" font-size="12.8" text-anchor="end" fill="#000" stroke="#000" stroke-width="0.5" font-family='"Liberation Sans", sans-serif'>3</text>
<line x1="74.9" y1="726.2" x2="80.8" y2="726.2" stroke="#000" stroke-width="2" stroke-linecap="butt"/>
<text x="73.9" y="730.8000000000001" font-size="12.8" text-anchor="end" fill="#000" stroke="#000" stroke-width="0.5" font-family='"Liberation Sans", sans-serif'>4</text>
<line x1="79.8" y1="859.4" x2="278.7" y2="859.4" stroke="#000" stroke-width="2.2" stroke-linecap="butt"/>
<text transform="translate(42.2,791.5) rotate(-90)" x="0" y="0" font-size="12.5" text-anchor="middle" fill="#000" stroke="#000" stroke-width="0.6" font-family='"Liberation Sans", sans-serif' textLength="112.3" lengthAdjust="spacingAndGlyphs">I at 0 mV (pA/pF)</text>
<line x1="113.5" y1="843.1" x2="113.5" y2="845.8" stroke="#000" stroke-width="1.6" stroke-linecap="butt"/>
<line x1="102.3" y1="843.1" x2="124.2" y2="843.1" stroke="#000" stroke-width="1.6" stroke-linecap="butt"/>
<rect x="92.05" y="846.55" width="43.000000000000014" height="12.850000000000023" fill="#fff" stroke="#777" stroke-width="1.5"/>
<line x1="180.2" y1="792.3" x2="180.2" y2="803.7" stroke="#000" stroke-width="1.6" stroke-linecap="butt"/>
<line x1="167.7" y1="792.3" x2="191.3" y2="792.3" stroke="#000" stroke-width="1.6" stroke-linecap="butt"/>
<rect x="158.75" y="804.45" width="42.900000000000006" height="54.94999999999993" fill="#000" stroke="#000" stroke-width="1.5"/>
<line x1="246.8" y1="839.8" x2="246.8" y2="842.6" stroke="#000" stroke-width="1.6" stroke-linecap="butt"/>
<line x1="234.3" y1="839.8" x2="258.7" y2="839.8" stroke="#000" stroke-width="1.6" stroke-linecap="butt"/>
<rect x="225.35" y="843.35" width="42.900000000000006" height="16.049999999999955" fill="url(#diag)" stroke="#000" stroke-width="1.5"/>
<text x="113.0" y="876.4" font-size="13" font-weight="bold" text-anchor="middle" fill="#000" font-family='"Liberation Sans", sans-serif' textLength="48.6" lengthAdjust="spacingAndGlyphs">Control</text>
<text x="180.0" y="876.4" font-size="13" font-weight="bold" text-anchor="middle" fill="#000" font-family='"Liberation Sans", sans-serif'>CN</text>
<text x="246.1" y="876.4" font-size="13" font-weight="bold" text-anchor="middle" fill="#000" font-family='"Liberation Sans", sans-serif' textLength="59.6" lengthAdjust="spacingAndGlyphs">CN+HMR</text>
<path d="M175.60,780.70 L175.60,777.70 M175.60,780.70 L178.45,779.77 M175.60,780.70 L177.36,783.13 M175.60,780.70 L173.84,783.13 M175.60,780.70 L172.75,779.77 " stroke="#444" stroke-width="1.3" stroke-linecap="round" fill="none"/>
<path d="M183.60,780.70 L183.60,777.70 M183.60,780.70 L186.45,779.77 M183.60,780.70 L185.36,783.13 M183.60,780.70 L181.84,783.13 M183.60,780.70 L180.75,779.77 " stroke="#444" stroke-width="1.3" stroke-linecap="round" fill="none"/>
<text x="246.7" y="829.4" font-size="14.5" text-anchor="middle" fill="#111" stroke="#111" stroke-width="0.5" font-family='"Liberation Sans", sans-serif' textLength="18" lengthAdjust="spacingAndGlyphs">##</text>
<path d="M231.1,712.8 L231.1,783.4" stroke="#d88a8a" stroke-width="1.6" fill="none"/>
<path d="M236.7,700.5 L236.7,715.1" stroke="#222" stroke-width="1.2" fill="none"/>
<path d="M231.8,783 L233,760 L234.5,740 L236,725 L237,718" stroke="#6a3a4a" stroke-width="1.2" fill="none" stroke-dasharray="2,1"/>
<path d="M237.3,715 C240,706 245,702 255,699.2 S275,697 289,696.6" stroke="#111" stroke-width="1.3" fill="none"/>
<path d="M236.5,721 C240,712 246,708.5 255,707 S275,706 289,705.6" stroke="#b03040" stroke-width="1.2" fill="none"/>
<path d="M237.5,727 C241,717 246,712.5 255,710.5 S275,709 289,708.1" stroke="#4a80c8" stroke-width="1.2" fill="none"/>
<circle cx="229.3" cy="724.5" r="0.8" fill="#333"/>
<path d="M252.1,770.6 L264.4,770.6 L264.4,752.5" stroke="#000" stroke-width="1.6" fill="none"/>
<text x="270.2" y="761.6" font-size="13" font-weight="bold" text-anchor="start" fill="#000" font-family='"Liberation Sans", sans-serif' textLength="55.1" lengthAdjust="spacingAndGlyphs">2 pA/pF</text>
<text x="238.7" y="786.4" font-size="13" font-weight="bold" text-anchor="start" fill="#000" font-family='"Liberation Sans", sans-serif' textLength="32.7" lengthAdjust="spacingAndGlyphs">0.2 s</text>
<text x="356.2" y="654.4" font-size="23.5" font-weight="bold" text-anchor="start" fill="#000" font-family='"Liberation Sans", sans-serif'>E</text>
<line x1="430.8" y1="727.9" x2="430.8" y2="862.0" stroke="#000" stroke-width="2.2" stroke-linecap="butt"/>
<line x1="424.9" y1="861.0" x2="430.8" y2="861.0" stroke="#000" stroke-width="2" stroke-linecap="butt"/>
<text x="423.0" y="865.6" font-size="12.8" text-anchor="end" fill="#000" stroke="#000" stroke-width="0.5" font-family='"Liberation Sans", sans-serif'>0</text>
<line x1="424.9" y1="828.0" x2="430.8" y2="828.0" stroke="#000" stroke-width="2" stroke-linecap="butt"/>
<text x="423.0" y="832.6" font-size="12.8" text-anchor="end" fill="#000" stroke="#000" stroke-width="0.5" font-family='"Liberation Sans", sans-serif'>1</text>
<line x1="424.9" y1="795.0" x2="430.8" y2="795.0" stroke="#000" stroke-width="2" stroke-linecap="butt"/>
<text x="423.0" y="799.6" font-size="12.8" text-anchor="end" fill="#000" stroke="#000" stroke-width="0.5" font-family='"Liberation Sans", sans-serif'>2</text>
<line x1="424.9" y1="762.0" x2="430.8" y2="762.0" stroke="#000" stroke-width="2" stroke-linecap="butt"/>
<text x="423.0" y="766.6" font-size="12.8" text-anchor="end" fill="#000" stroke="#000" stroke-width="0.5" font-family='"Liberation Sans", sans-serif'>3</text>
<line x1="424.9" y1="729.0" x2="430.8" y2="729.0" stroke="#000" stroke-width="2" stroke-linecap="butt"/>
<text x="423.0" y="733.6" font-size="12.8" text-anchor="end" fill="#000" stroke="#000" stroke-width="0.5" font-family='"Liberation Sans", sans-serif'>4</text>
<line x1="429.8" y1="861.0" x2="631.5" y2="861.0" stroke="#000" stroke-width="2.2" stroke-linecap="butt"/>
<text transform="translate(392.2,794.0) rotate(-90)" x="0" y="0" font-size="12.5" text-anchor="middle" fill="#000" stroke="#000" stroke-width="0.6" font-family='"Liberation Sans", sans-serif' textLength="110.6" lengthAdjust="spacingAndGlyphs">I at 0 mV (pA/pF)</text>
<line x1="463.5" y1="809.6" x2="463.5" y2="815.8" stroke="#000" stroke-width="1.6" stroke-linecap="butt"/>
<line x1="452.3" y1="809.6" x2="474.6" y2="809.6" stroke="#000" stroke-width="1.6" stroke-linecap="butt"/>
<rect x="442.05" y="816.55" width="43.39999999999998" height="44.450000000000045" fill="#fff" stroke="#333" stroke-width="1.5"/>
<line x1="529.5" y1="743.2" x2="529.5" y2="757.0" stroke="#000" stroke-width="1.6" stroke-linecap="butt"/>
<line x1="517.7" y1="743.2" x2="541.3" y2="743.2" stroke="#000" stroke-width="1.6" stroke-linecap="butt"/>
<rect x="508.75" y="757.75" width="42.89999999999998" height="103.25" fill="#000" stroke="#000" stroke-width="1.5"/>
<line x1="597.2" y1="807.0" x2="597.2" y2="812.5" stroke="#000" stroke-width="1.6" stroke-linecap="butt"/>
<line x1="585.7" y1="807.0" x2="608.7" y2="807.0" stroke="#000" stroke-width="1.6" stroke-linecap="butt"/>
<rect x="575.35" y="813.25" width="43.69999999999993" height="47.75" fill="url(#diag)" stroke="#000" stroke-width="1.5"/>
<text x="463.2" y="879.2" font-size="13" font-weight="bold" text-anchor="middle" fill="#000" font-family='"Liberation Sans", sans-serif' textLength="48.2" lengthAdjust="spacingAndGlyphs">Control</text>
<text x="529.4" y="879.2" font-size="13" font-weight="bold" text-anchor="middle" fill="#000" font-family='"Liberation Sans", sans-serif'>P</text>
<text x="596.8" y="879.2" font-size="13" font-weight="bold" text-anchor="middle" fill="#000" font-family='"Liberation Sans", sans-serif' textLength="57.7" lengthAdjust="spacingAndGlyphs">P + HMR</text>
<path d="M526.00,732.80 L526.00,729.80 M526.00,732.80 L528.85,731.87 M526.00,732.80 L527.76,735.23 M526.00,732.80 L524.24,735.23 M526.00,732.80 L523.15,731.87 " stroke="#444" stroke-width="1.3" stroke-linecap="round" fill="none"/>
<path d="M534.80,732.80 L534.80,729.80 M534.80,732.80 L537.65,731.87 M534.80,732.80 L536.56,735.23 M534.80,732.80 L533.04,735.23 M534.80,732.80 L531.95,731.87 " stroke="#444" stroke-width="1.3" stroke-linecap="round" fill="none"/>
<text x="597.9" y="799.2" font-size="14.5" text-anchor="middle" fill="#111" stroke="#111" stroke-width="0.5" font-family='"Liberation Sans", sans-serif' textLength="17.6" lengthAdjust="spacingAndGlyphs">##</text>
<path d="M573.8,680 L573.8,717.3" stroke="#d89090" stroke-width="1.6" fill="none"/>
<path d="M579,654.9 L579,717.3" stroke="#aaa" stroke-width="1.4" fill="none"/>
<path d="M579.8,654.3 L579.8,661.4" stroke="#222" stroke-width="1.4" fill="none"/>
<path d="M580.2,659 C580.8,652 583,649.5 587,648.4 L592,647.8 L597,647.2 L602,647.4 L607,646.6 L612,646.9 L617,646.4 L622,647.1 L627,646.8 L631.2,647.1" stroke="#222" stroke-width="1.2" fill="none"/>
<path d="M574.2,716 C576,700 578,684 581,677 C585,671 592,668.5 605,667 S620,665.8 631.2,665.6" stroke="#b04050" stroke-width="1.2" fill="none"/>
<path d="M577.6,700 C578.5,690 580,682 583.6,675.7 C586,673.5 589,672.4 597.8,670.2 C605,669.4 615,668.8 631.2,668.5" stroke="#3a8aa8" stroke-width="1.2" fill="none"/>
<path d="M594.8,714.5 L608.2,714.5 L608.2,695.4" stroke="#000" stroke-width="1.6" fill="none"/>
<text x="612.6" y="705.3" font-size="13" font-weight="bold" text-anchor="start" fill="#000" font-family='"Liberation Sans", sans-serif' textLength="55" lengthAdjust="spacingAndGlyphs">2 pA/pF</text>
<text x="581.4" y="729.3" font-size="13" font-weight="bold" text-anchor="start" fill="#000" font-family='"Liberation Sans", sans-serif' textLength="31.8" lengthAdjust="spacingAndGlyphs">0.2 s</text>
</svg></body></html>
